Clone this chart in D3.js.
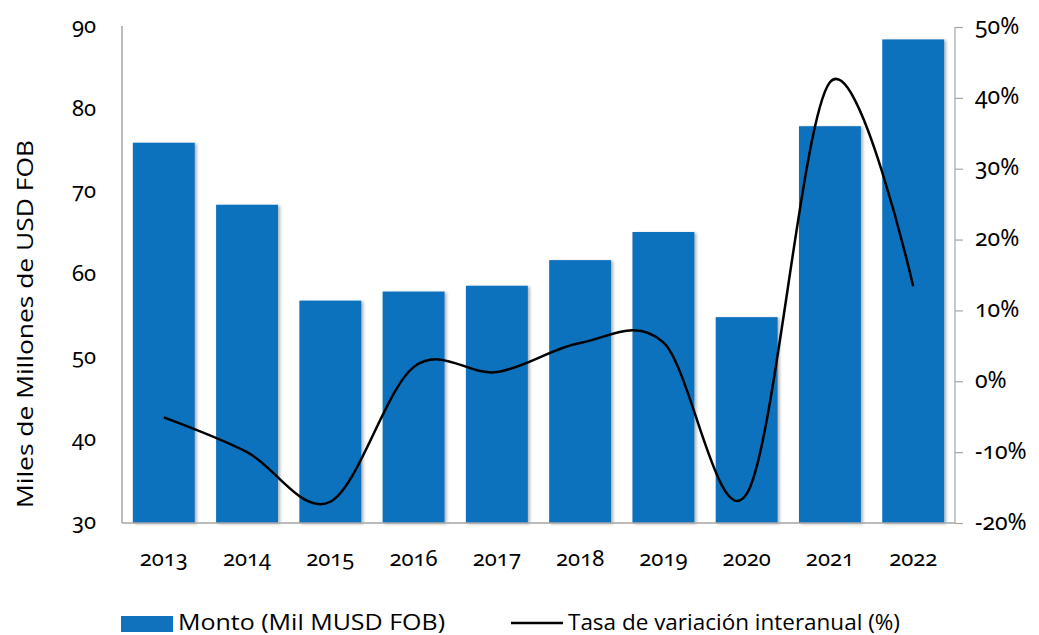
<!DOCTYPE html>
<html lang="es">
<head>
    <meta charset="UTF-8">
    <title>Monto y tasa de variación</title>
    <script src="https://d3js.org/d3.v7.min.js"></script>
    <style>
        body {
            margin: 0;
            padding: 0;
            overflow: hidden;
            background-color: #fff;
        }
        .tick-num {
            font-family: "Noto Sans", Lato, sans-serif;
            font-feature-settings: "onum" 1;
            font-variant-numeric: oldstyle-nums;
            font-size: 22px;
            fill: #000;
        }
        .legend-text {
            font-family: "Liberation Sans Narrow", "Open Sans", sans-serif;
            font-size: 22px;
            fill: #000;
        }
    </style>
</head>
<body>
    <div id="chart"></div>
    <script>
        const years = ["2013", "2014", "2015", "2016", "2017", "2018", "2019", "2020", "2021", "2022"];
        // Monto (Mil MUSD FOB)
        const monto = [76.0, 68.5, 56.9, 58.0, 58.7, 61.8, 65.2, 54.9, 78.0, 88.5];
        // Tasa de variación interanual (%)
        const tasa = [-5.1, -10.0, -17.0, 2.0, 1.3, 5.4, 5.5, -15.9, 42.2, 13.4];
        const leftTicks = [30, 40, 50, 60, 70, 80, 90];
        const rightTicks = [-20, -10, 0, 10, 20, 30, 40, 50];

        const width = 1039;
        const height = 635;
        const plotLeft = 122, plotRight = 955, plotTop = 27, plotBottom = 523;

        const svg = d3.select("#chart")
            .append("svg")
            .attr("width", width)
            .attr("height", height);

        // soft shadow under the bars
        const defs = svg.append("defs");
        const f = defs.append("filter").attr("id", "shadow")
            .attr("x", "-10%").attr("y", "-5%").attr("width", "130%").attr("height", "110%");
        f.append("feDropShadow")
            .attr("dx", 2).attr("dy", 1).attr("stdDeviation", 1.5)
            .attr("flood-color", "#000").attr("flood-opacity", 0.3);

        const x = d3.scaleBand()
            .domain(years)
            .range([plotLeft, plotRight])
            .paddingInner(0.256)
            .paddingOuter(0.13);

        const yL = d3.scaleLinear().domain([30, 90]).range([plotBottom, plotTop]);
        const yR = d3.scaleLinear().domain([-20, 50]).range([plotBottom, plotTop]);

        // bars
        svg.append("g")
            .selectAll("rect")
            .data(years)
            .enter().append("rect")
            .attr("x", d => x(d))
            .attr("width", x.bandwidth())
            .attr("y", (d, i) => yL(monto[i]))
            .attr("height", (d, i) => plotBottom - yL(monto[i]))
            .attr("fill", "#1072BD")
            .attr("filter", "url(#shadow)");

        // axes lines
        const axisColor = "#a6a6a6";
        svg.append("line")
            .attr("x1", plotLeft).attr("x2", plotLeft).attr("y1", plotTop - 1).attr("y2", plotBottom)
            .attr("stroke", axisColor).attr("stroke-width", 1.5);
        svg.append("line")
            .attr("x1", plotLeft).attr("x2", plotRight).attr("y1", plotBottom).attr("y2", plotBottom)
            .attr("stroke", axisColor).attr("stroke-width", 1.5);

        // left axis labels
        svg.append("g")
            .selectAll("text")
            .data(leftTicks)
            .enter().append("text")
            .attr("class", "tick-num")
            .attr("x", 96)
            .attr("y", d => yL(d) + 6)
            .attr("text-anchor", "end")
            .text(d => d);

        // right axis
        const rAxis = svg.append("g")
            .attr("transform", `translate(${plotRight},0)`)
            .call(d3.axisRight(yR).tickValues(rightTicks).tickSize(8).tickPadding(12)
                .tickFormat(d => d + "%"));
        rAxis.select(".domain").attr("stroke", axisColor).attr("stroke-width", 1.2)
            .attr("d", `M0,${plotTop}V${plotBottom}`);
        rAxis.selectAll(".tick line").attr("stroke", axisColor).attr("stroke-width", 1.2);
        rAxis.attr("font-size", null).attr("font-family", null);
        rAxis.selectAll(".tick text")
            .attr("class", "tick-num")
            .attr("dy", 6)
            .style("font-size", "23px");

        // year labels
        svg.append("g")
            .selectAll("text")
            .data(years)
            .enter().append("text")
            .attr("class", "tick-num")
            .attr("x", d => x(d) + x.bandwidth() / 2)
            .attr("y", 566)
            .attr("text-anchor", "middle")
            .text(d => d);

        // line
        const line = d3.line()
            .x((d, i) => x(years[i]) + x.bandwidth() / 2)
            .y(d => yR(d))
            .curve(d3.curveCardinal.tension(0));

        svg.append("path")
            .datum(tasa)
            .attr("d", line)
            .attr("fill", "none")
            .attr("stroke", "#000")
            .attr("stroke-width", 2.5);

        // axis title
        svg.append("text")
            .attr("transform", "translate(33,324) rotate(-90)")
            .attr("text-anchor", "middle")
            .attr("font-family", "'Open Sans', sans-serif")
            .attr("font-size", 22)
            .attr("textLength", 368)
            .attr("lengthAdjust", "spacingAndGlyphs")
            .text("Miles de Millones de USD FOB");

        // legend
        svg.append("rect")
            .attr("x", 121).attr("y", 616).attr("width", 52).attr("height", 16)
            .attr("fill", "#1072BD");
        svg.append("text")
            .attr("class", "legend-text")
            .attr("x", 178).attr("y", 630)
            .attr("textLength", 267)
            .attr("lengthAdjust", "spacingAndGlyphs")
            .text("Monto (Mil MUSD FOB)");
        svg.append("line")
            .attr("x1", 511).attr("x2", 563).attr("y1", 623).attr("y2", 623)
            .attr("stroke", "#000").attr("stroke-width", 2.5);
        svg.append("text")
            .attr("class", "legend-text")
            .attr("x", 568).attr("y", 630)
            .attr("textLength", 332)
            .attr("lengthAdjust", "spacingAndGlyphs")
            .text("Tasa de variación interanual (%)");
    </script>
</body>
</html>
